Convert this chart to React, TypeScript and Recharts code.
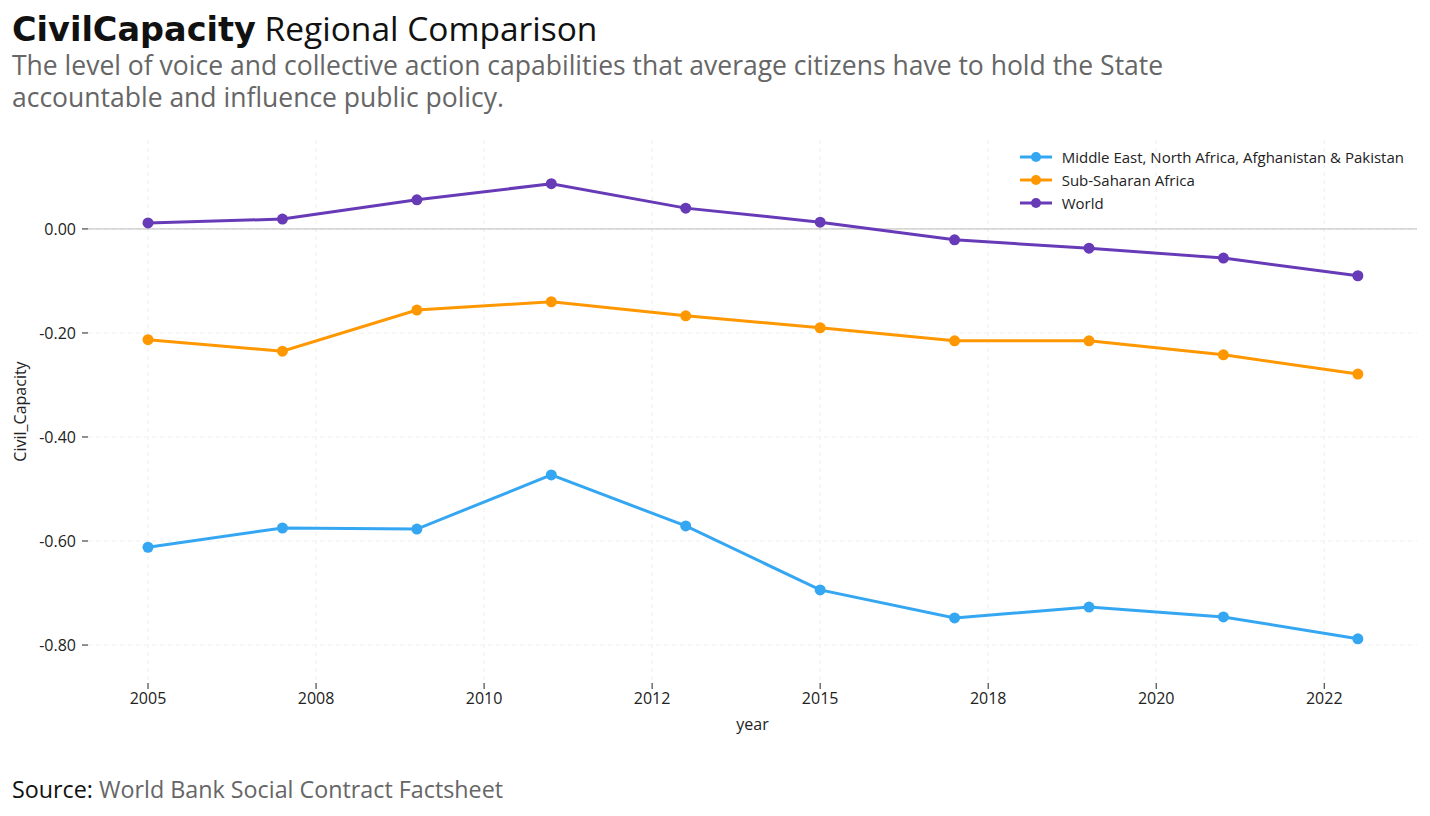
import React from "react";
import { LineChart, Line, XAxis, YAxis, CartesianGrid, ReferenceLine } from "recharts";

const years = [2005, 2007, 2009, 2011, 2013, 2015, 2017, 2019, 2021, 2023];
const mena = [-0.612, -0.575, -0.577, -0.473, -0.571, -0.694, -0.748, -0.727, -0.746, -0.788];
const ssa = [-0.213, -0.235, -0.156, -0.140, -0.167, -0.190, -0.215, -0.215, -0.242, -0.279];
const world = [0.0115, 0.019, 0.056, 0.087, 0.040, 0.013, -0.021, -0.037, -0.056, -0.090];

const xTicks = [2005, 2007.5, 2010, 2012.5, 2015, 2017.5, 2020, 2022.5];
const xTickLabels = ["2005", "2008", "2010", "2012", "2015", "2018", "2020", "2022"];
const yTicks = [-0.8, -0.6, -0.4, -0.2, 0];

const series = [
  { key: "mena", name: "Middle East, North Africa, Afghanistan & Pakistan", color: "#35a7f2" },
  { key: "ssa", name: "Sub-Saharan Africa", color: "#ff9800" },
  { key: "world", name: "World", color: "#673ab7" },
];

const data = years.map((y, i) => ({ year: y, mena: mena[i], ssa: ssa[i], world: world[i] }));

const FONT = "'Open Sans', 'Noto Sans', sans-serif";

function LegendBox() {
  return (
    <div style={{ fontFamily: FONT, fontSize: 15, color: "#222" }}>
      {series.map((s) => (
        <div key={s.key} style={{ display: "flex", alignItems: "center", height: 23 }}>
          <svg width={34} height={12} style={{ marginRight: 9 }}>
            <line x1={1} y1={6} x2={33} y2={6} stroke={s.color} strokeWidth={3} />
            <circle cx={17} cy={6} r={5} fill={s.color} />
          </svg>
          <span>{s.name}</span>
        </div>
      ))}
    </div>
  );
}

export default function App() {
  return (
    <div style={{ position: "absolute", left: 0, top: 0, width: 1430, height: 816, background: "#fff", fontFamily: FONT }}>
      <div style={{ position: "absolute", left: 12, top: 5, fontSize: 33.5, lineHeight: "46px", color: "#111", whiteSpace: "nowrap" }}>
        <span style={{ fontWeight: 700, fontFamily: "'DejaVu Sans', sans-serif" }}>CivilCapacity</span> Regional Comparison
      </div>
      <div style={{ position: "absolute", left: 12, top: 49, width: 1250, fontSize: 26.5, lineHeight: "32px", color: "#666" }}>
        The level of voice and collective action capabilities that average citizens have to hold the State accountable and influence public policy.
      </div>
      <div style={{ position: "absolute", left: 0, top: 0 }}>
        <LineChart width={1430} height={760} data={data} margin={{ top: 140, right: 13, left: 0, bottom: 27 }}>
          <CartesianGrid strokeDasharray="4 4" stroke="#eeeeee" horizontalValues={yTicks} verticalValues={xTicks} />
          <XAxis
            type="number"
            dataKey="year"
            domain={[2004.107, 2023.88]}
            ticks={xTicks}
            tickFormatter={(v) => xTickLabels[xTicks.indexOf(v)] ?? String(v)}
            axisLine={false}
            tickLine={{ stroke: "#222" }}
            tickSize={6}
            tickMargin={4}
            tick={{ fontSize: 16, fill: "#222", fontFamily: FONT }}
            height={50}
            label={{ value: "year", position: "insideBottom", offset: 3, fontSize: 16, fill: "#222", fontFamily: FONT }}
          />
          <YAxis
            type="number"
            domain={[-0.873, 0.171]}
            ticks={yTicks}
            tickFormatter={(v) => Number(v).toFixed(2)}
            axisLine={false}
            tickLine={{ stroke: "#222" }}
            tickSize={6}
            tickMargin={6}
            tick={{ fontSize: 16, fill: "#222", fontFamily: FONT }}
            width={88}
            label={{
              content: (p: any) => {
                const vb = p.viewBox;
                const cy = vb.y + vb.height / 2;
                return (
                  <text x={20} y={cy} transform={`rotate(-90 20 ${cy})`} textAnchor="middle" dominantBaseline="central" fontSize={16} fill="#222" fontFamily={FONT}>
                    Civil_Capacity
                  </text>
                );
              },
            }}
          />
          <ReferenceLine y={0} stroke="#bbbbbb" strokeWidth={1} />
          {series.map((s) => (
            <Line
              key={s.key}
              type="linear"
              dataKey={s.key}
              name={s.name}
              stroke={s.color}
              strokeWidth={3}
              dot={{ r: 5.5, fill: s.color, stroke: "none" }}
              activeDot={false}
              isAnimationActive={false}
            />
          ))}
        </LineChart>
      </div>
      <div style={{ position: "absolute", right: 26, top: 145 }}>
        <LegendBox />
      </div>
      <div style={{ position: "absolute", left: 12, top: 773, fontSize: 23.3, lineHeight: "32px", color: "#666", whiteSpace: "nowrap" }}>
        <span style={{ color: "#111" }}>Source:</span> World Bank Social Contract Factsheet
      </div>
    </div>
  );
}
